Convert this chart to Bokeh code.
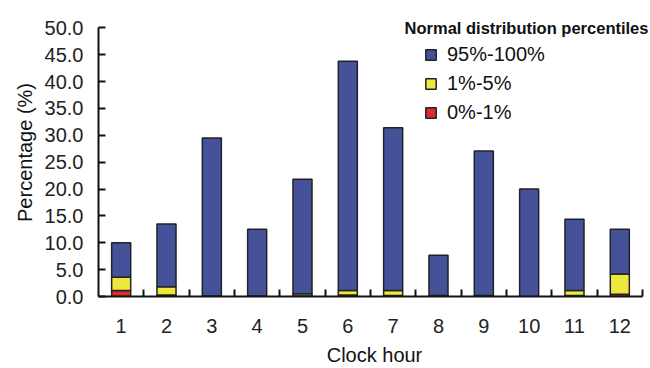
from bokeh.plotting import figure
from bokeh.models import (ColumnDataSource, Range1d, FixedTicker, NumeralTickFormatter,
                          Legend, LegendItem, Label)
from bokeh.embed import file_html
from bokeh.resources import INLINE

hours = [1, 2, 3, 4, 5, 6, 7, 8, 9, 10, 11, 12]
hour_labels = ["1", "2", "3", "4", "5", "6", "7", "8", "9", "10", "11", "12"]
p0_1 = [1.1, 0.3, 0.0, 0.0, 0.1, 0.3, 0.2, 0.1, 0.1, 0.0, 0.2, 0.4]
p1_5 = [2.5, 1.5, 0.1, 0.1, 0.4, 0.8, 0.9, 0.1, 0.1, 0.0, 0.9, 3.8]
p95_100 = [6.4, 11.7, 29.4, 12.4, 21.3, 42.7, 30.3, 7.5, 26.9, 20.0, 13.3, 8.3]
y_ticks = [0, 5, 10, 15, 20, 25, 30, 35, 40, 45, 50]
series_names = ["0%-1%", "1%-5%", "95%-100%"]
series_colors = ["#DC2A30", "#EEE83E", "#45529A"]
legend_title = "Normal distribution percentiles"

FONT = "Liberation Sans"

src = ColumnDataSource(dict(x=hours, p0_1=p0_1, p1_5=p1_5, p95_100=p95_100))

# frame: left 98, right 650, top 8, bottom ~297; axes drawn only over [0.5,12.5] x [0,50]
p = figure(width=650, height=368, output_backend="svg", toolbar_location=None,
           x_range=Range1d(0.5, 12.677), y_range=Range1d(0, 53.6),
           min_border_left=98, min_border_right=0, min_border_top=8, min_border_bottom=70)
p.outline_line_color = None
p.xgrid.visible = False
p.ygrid.visible = False
p.background_fill_color = "white"
p.border_fill_color = "white"

rs = p.vbar_stack(["p0_1", "p1_5", "p95_100"], x="x", width=0.42, source=src,
                  color=series_colors, line_color="#222222", line_width=1.5)

# x axis
xa = p.xaxis[0]
xa.bounds = (0.5, 12.5)
xa.ticker = FixedTicker(ticks=hours, minor_ticks=[h + 0.5 for h in hours])
xa.major_label_overrides = {h: l for h, l in zip(hours, hour_labels)}
xa.major_tick_in = 0
xa.major_tick_out = 0
xa.minor_tick_in = 7
xa.minor_tick_out = 0
xa.minor_tick_line_color = "#111111"
xa.minor_tick_line_width = 2
xa.axis_line_width = 2
xa.axis_line_color = "#111111"
xa.major_label_standoff = 22
xa.major_label_text_font = FONT
xa.major_label_text_font_size = "20px"
xa.major_label_text_color = "#222222"
xa.axis_label = "Clock hour"
xa.axis_label_text_font = FONT
xa.axis_label_text_font_style = "normal"
xa.axis_label_text_font_size = "20px"
xa.axis_label_text_color = "#111111"
xa.axis_label_standoff = 8

# y axis
ya = p.yaxis[0]
ya.bounds = (0, 50)
ya.ticker = FixedTicker(ticks=y_ticks, minor_ticks=[])
ya.formatter = NumeralTickFormatter(format="0.0")
ya.major_tick_in = 7
ya.major_tick_out = 0
ya.major_tick_line_width = 2
ya.major_tick_line_color = "#111111"
ya.axis_line_width = 2
ya.axis_line_color = "#111111"
ya.major_label_standoff = 15
ya.major_label_text_font = FONT
ya.major_label_text_font_size = "20px"
ya.major_label_text_color = "#222222"
ya.axis_label = "Percentage (%)"
ya.axis_label_text_font = FONT
ya.axis_label_text_font_style = "normal"
ya.axis_label_text_font_size = "20px"
ya.axis_label_text_color = "#111111"
ya.axis_label_standoff = 6

# legend
items = [LegendItem(label=series_names[i], renderers=[rs[i]]) for i in (2, 1, 0)]
leg = Legend(items=items, location=(326, 172), padding=0, margin=0,
             glyph_width=13, glyph_height=13, label_height=20, spacing=6,
             label_standoff=10, label_text_font=FONT, label_text_font_size="20px",
             label_text_color="#111111",
             border_line_alpha=0, background_fill_alpha=0)
p.add_layout(leg)

p.add_layout(Label(x=12.5, y=50, x_offset=6, text=legend_title, text_align="right",
                   text_baseline="middle", text_font=FONT, text_font_style="bold",
                   text_font_size="16.5px", text_color="#111111"))

open("out.html", "w").write(file_html(p, INLINE))
